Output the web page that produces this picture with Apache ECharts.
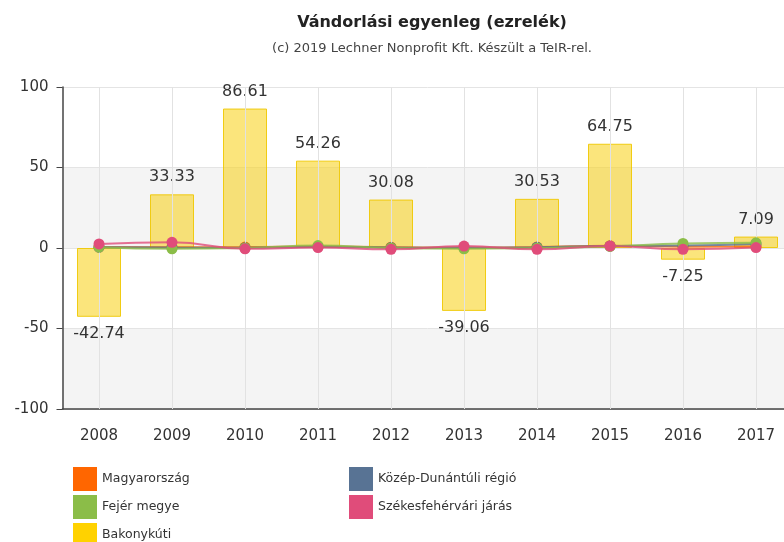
<!DOCTYPE html>
<html>
<head>
<meta charset="utf-8">
<script src="https://cdn.jsdelivr.net/npm/echarts@6/dist/echarts.min.js"></script>
<style>
  html, body { margin: 0; padding: 0; background: #fff; overflow: hidden; }
  #chart { width: 854px; height: 542px; }
</style>
</head>
<body>
<div id="chart"></div>
<script>
// évek
var years = ['2008', '2009', '2010', '2011', '2012', '2013', '2014', '2015', '2016', '2017'];
// sorozatok (ezrelék)
var bakonykuti = [-42.74, 33.33, 86.61, 54.26, 30.08, -39.06, 30.53, 64.75, -7.25, 7.09];
var magyarorszag = [0.6, 0.5, 0.6, 0.9, 0.5, 0.3, 0.6, 1.4, 0.8, 1.0];
var kozepDunantul = [0.5, 0.3, 0.2, 0.8, 0.3, 0.1, 0.5, 1.2, 1.5, 2.5];
var fejer = [0.5, -0.5, 0.0, 1.5, 0.0, -0.5, 0.0, 1.0, 2.8, 3.2];
var szekesfehervar = [2.5, 3.5, -0.5, 0.3, -0.8, 1.2, -0.8, 1.2, -0.8, 0.3];
var yTicks = [-100, -50, 0, 50, 100];

var font = 'DejaVu Sans';

// a diagram szélesebb mint az ablak, jobb oldalt le van vágva (mint az eredetin)
var chart = echarts.init(document.getElementById('chart'));

function lineSeries(name, data, color, z) {
    return {
        name: name,
        type: 'line',
        data: data,
        smooth: true,
        symbol: 'circle',
        symbolSize: 11,
        z: z,
        itemStyle: { color: color },
        lineStyle: { color: color, width: 2, opacity: 0.8 }
    };
}

var barData = bakonykuti.map(function (v) {
    return { value: v, label: { position: v < 0 ? 'bottom' : 'top' } };
});

var legendBase = {
    orient: 'vertical',
    top: 467,
    height: 100,
    padding: 0,
    itemWidth: 24,
    itemHeight: 24,
    itemGap: 4,
    icon: 'rect',
    textStyle: { fontFamily: font, fontSize: 12.5, color: '#333' }
};

var option = {
    backgroundColor: '#fff',
    animation: false,
    title: [{
        text: 'Vándorlási egyenleg (ezrelék)',
        left: 427,
        top: 10,
        textAlign: 'center',
        textStyle: { fontFamily: font, fontSize: 16, fontWeight: 'bold', color: '#222' }
    }, {
        text: '(c) 2019 Lechner Nonprofit Kft. Készült a TeIR-rel.',
        left: 427,
        top: 37,
        textAlign: 'center',
        textStyle: { fontFamily: font, fontSize: 13, fontWeight: 'normal', color: '#444' }
    }],
    legend: [
        Object.assign({}, legendBase, {
            left: 73,
            data: ['Magyarország', 'Fejér megye', { name: 'Bakonykúti', itemStyle: { color: '#ffd200', opacity: 1, borderWidth: 0 } }]
        }),
        Object.assign({}, legendBase, {
            left: 349,
            data: ['Közép-Dunántúli régió', 'Székesfehérvári járás']
        })
    ],
    grid: { left: 62.5, right: 61.5, top: 87, bottom: 133 },
    xAxis: {
        type: 'category',
        data: years,
        axisLine: { onZero: false, lineStyle: { color: '#444', width: 1.5 } },
        axisTick: { alignWithLabel: true, length: 6, lineStyle: { color: '#444' } },
        axisLabel: { fontFamily: font, fontSize: 15, color: '#333', margin: 20 },
        splitLine: { show: false }
    },
    yAxis: {
        type: 'value',
        min: yTicks[0],
        max: yTicks[yTicks.length - 1],
        interval: 50,
        axisLine: { show: true, lineStyle: { color: '#444', width: 1.5 } },
        axisTick: { show: true, length: 6, lineStyle: { color: '#444' } },
        axisLabel: { fontFamily: font, fontSize: 15, color: '#333', margin: 14 },
        splitLine: { lineStyle: { color: '#e4e4e4' } },
        splitArea: { show: true, areaStyle: { color: ['#f4f4f4', '#ffffff'] } }
    },
    series: [{
        name: 'Bakonykúti',
        type: 'bar',
        data: barData,
        barWidth: 44,
        z: 2,
        itemStyle: { color: 'rgba(248,210,30,0.58)', borderColor: 'rgba(240,200,0,0.9)', borderWidth: 1 },
        label: { show: true, distance: 9, fontFamily: font, fontSize: 16, color: '#333' },
        markLine: {
            silent: true,
            symbol: 'none',
            label: { show: false },
            lineStyle: { color: '#e2e2e2', type: 'solid', width: 1 },
            data: years.map(function (y) { return { xAxis: y }; })
        }
    },
        lineSeries('Magyarország', magyarorszag, '#ff6600', 3),
        lineSeries('Közép-Dunántúli régió', kozepDunantul, '#587394', 4),
        lineSeries('Fejér megye', fejer, '#8bbd48', 5),
        lineSeries('Székesfehérvári járás', szekesfehervar, '#e04c7a', 6)
    ]
};

chart.setOption(option);
</script>
</body>
</html>
